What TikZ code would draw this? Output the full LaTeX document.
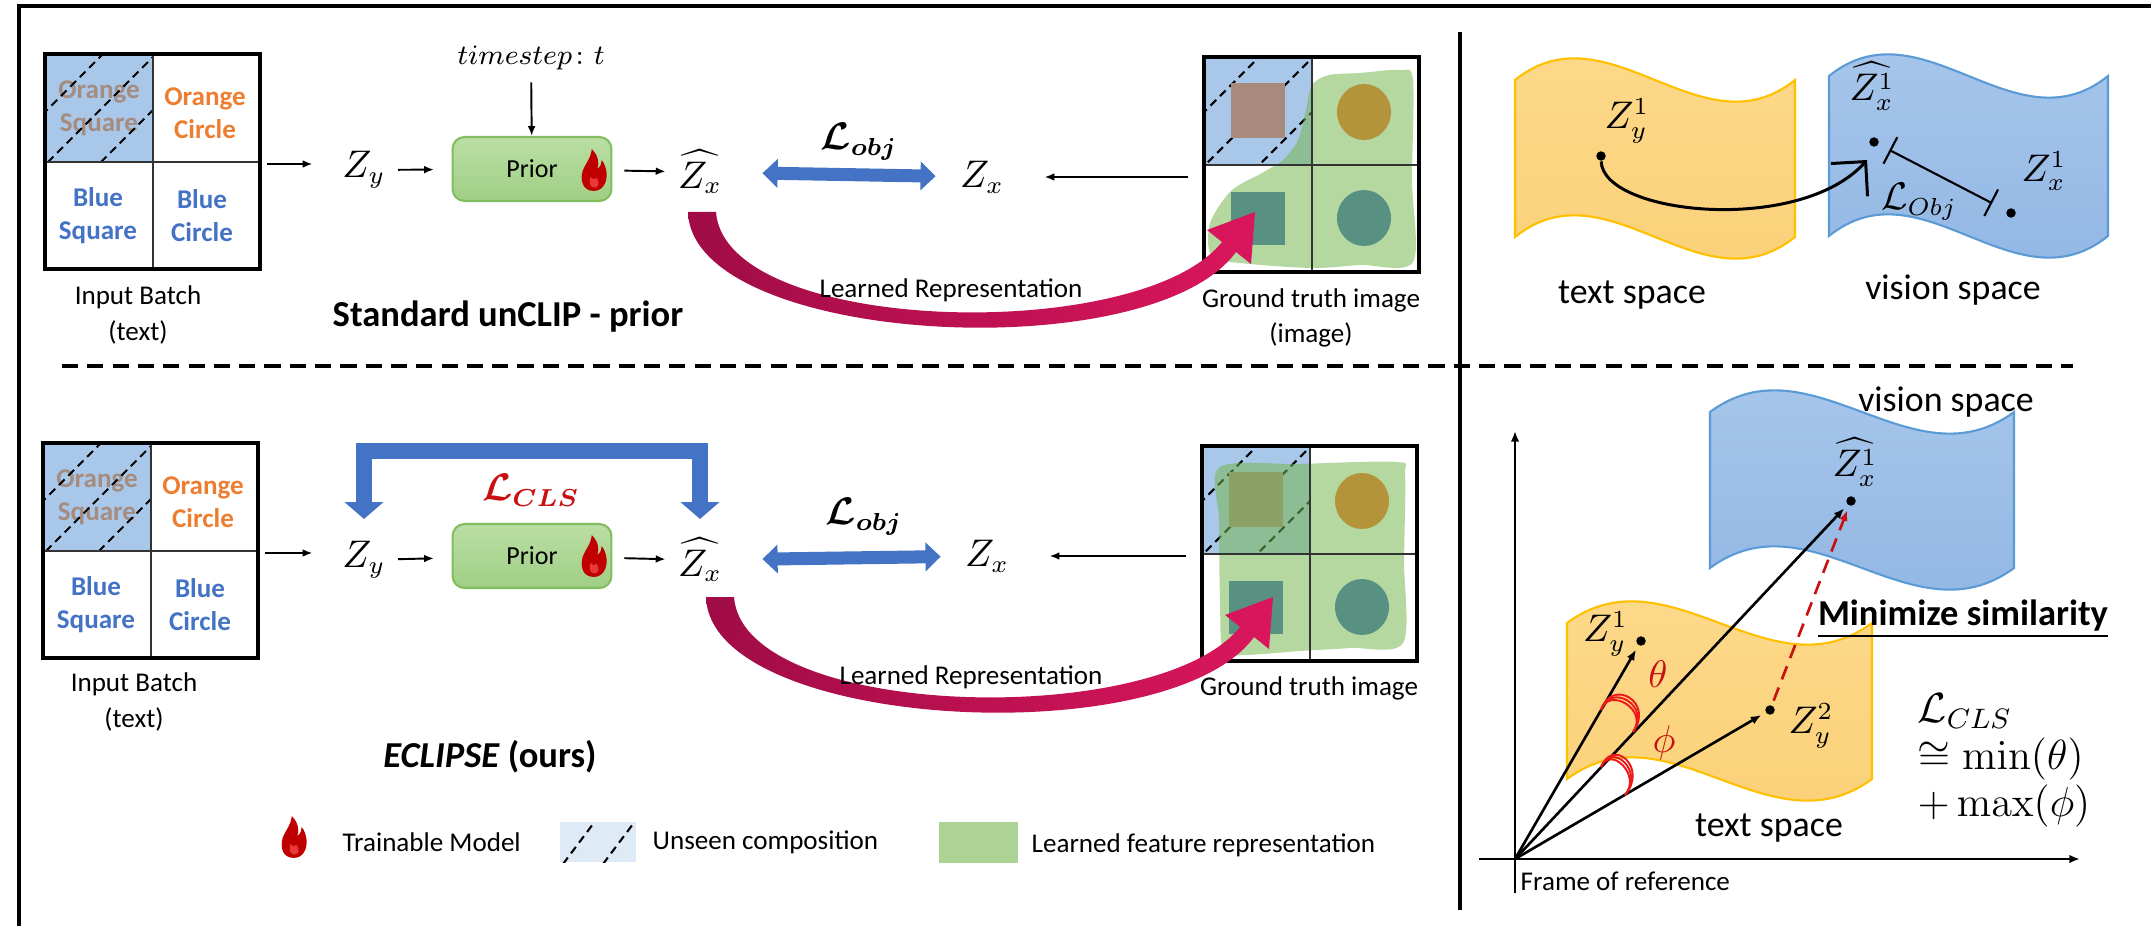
\documentclass[tikz,border=0pt]{standalone}
\usepackage{amsmath}
\usepackage{amssymb}
\usepackage[no-math]{fontspec}
\setmainfont{Carlito}
\usetikzlibrary{arrows.meta}
\usetikzlibrary{calc}

\definecolor{unseenblue}{RGB}{169,199,232}
\definecolor{legendblue}{RGB}{222,235,247}
\definecolor{greyorange}{RGB}{165,140,128}
\definecolor{txtorange}{RGB}{237,125,49}
\definecolor{txtblue}{RGB}{68,114,196}
\definecolor{learnedgreen}{RGB}{118,181,80}
\definecolor{legendgreen}{RGB}{172,210,148}
\definecolor{brownsq}{RGB}{168,138,125}
\definecolor{olivedisc}{RGB}{179,148,58}
\definecolor{tealshape}{RGB}{88,145,130}
\definecolor{arrowblue}{RGB}{68,114,196}
\definecolor{lossred}{RGB}{200,16,16}
\definecolor{anglered}{RGB}{235,25,25}
\definecolor{arrowdark}{RGB}{160,12,70}
\definecolor{arrowlight}{RGB}{218,22,92}
\definecolor{flamered}{RGB}{192,0,0}
\definecolor{flamelight}{RGB}{232,56,60}
\definecolor{priortop}{RGB}{186,222,164}
\definecolor{priorbot}{RGB}{160,207,133}
\definecolor{prioredge}{RGB}{130,190,95}
\definecolor{texttop}{RGB}{253,218,142}
\definecolor{textbot}{RGB}{251,208,118}
\definecolor{textedge}{RGB}{255,192,0}
\definecolor{visiontop}{RGB}{170,200,235}
\definecolor{visionbot}{RGB}{143,181,228}
\definecolor{visionedge}{RGB}{91,155,213}

\tikzset{
  frameline/.style={line width=1pt},
  sepline/.style={line width=1.2pt, dash pattern=on 4.6pt off 2.6pt},
  panelline/.style={line width=1.1pt},
  gridline/.style={line width=0.6pt, black!80},
  hatch/.style={line width=0.6pt, dash pattern=on 2.3pt off 1.5pt},
  celltxt/.style={font=\bfseries\fontsize{7.7}{9.4}\selectfont, align=center, inner sep=0pt},
  lbl/.style={font=\fontsize{7.7}{10}\selectfont, align=center},
  biglbl/.style={font=\fontsize{10.2}{12}\selectfont},
  title/.style={font=\bfseries\fontsize{10.4}{12}\selectfont},
  zlbl/.style={font=\fontsize{10.5}{12}\selectfont},
  ptlbl/.style={font=\fontsize{10.5}{12}\selectfont, inner sep=1pt},
  flow/.style={-{Latex[length=2.8pt,width=2.2pt]}, line width=0.55pt},
  prior/.style={draw=prioredge, line width=0.6pt, rounded corners=3.4pt,
    top color=priortop, bottom color=priorbot, minimum width=45.2pt,
    minimum height=18.2pt, font=\fontsize{7.4}{9}\selectfont},
  objarrow/.style={{Triangle[width=8pt,length=4.3pt]}-{Triangle[width=8pt,length=4.3pt]},
    line width=3.7pt, draw=arrowblue},
  clsarrow/.style={{Triangle[width=10.8pt,length=4.8pt]}-{Triangle[width=10.8pt,length=4.8pt]},
    line width=4.8pt, draw=arrowblue, line join=miter},
  learned/.style={fill=learnedgreen, fill opacity=0.54},
  textspace/.style={top color=texttop, bottom color=textbot, draw=textedge, line width=0.6pt},
  visionspace/.style={top color=visiontop, bottom color=visionbot, draw=visionedge, line width=0.6pt},
  dot/.style={circle, fill, inner sep=0pt, minimum size=2.7pt},
  maparrow/.style={-{Straight Barb[length=7pt,width=14pt]}, line width=0.85pt},
  objbar/.style={{Bar[width=8.5pt]}-{Bar[width=8.5pt]}, line width=0.6pt,
    shorten <=3.4pt, shorten >=4.5pt},
  vec/.style={-{Latex[length=3pt,width=2.4pt]}, line width=0.75pt, shorten >=1.3pt},
  axis/.style={-{Latex[length=3pt,width=2.4pt]}, line width=0.6pt},
  simarrow/.style={-{Latex[length=3pt,width=2.4pt]}, draw=lossred, line width=0.75pt,
    dash pattern=on 4pt off 2.5pt, shorten >=1.3pt, shorten <=1.3pt},
  anglearc/.style={draw=anglered, line width=0.55pt},
  pics/flame/.style={code={
    \fill[flamered] (0,19) .. controls (-9,19) and (-12,12) .. (-11,4)
      .. controls (-10,-4) and (-3,-9) .. (-2,-19)
      .. controls (4,-13) and (5,-6) .. (3,-1)
      .. controls (6,-3) and (7,-6) .. (7,-9)
      .. controls (12,-3) and (13,8) .. (9,14)
      .. controls (7,17) and (4,19) .. (0,19) -- cycle;
    \fill[flamelight] (1,16) .. controls (-4,16) and (-5,11) .. (-3,6)
      .. controls (-1,9) and (1,9) .. (2,7)
      .. controls (5,10) and (5,15) .. (1,16) -- cycle;
  }},
}

% 2x2 grid of text prompts, #1 = its right-hand port
\newcommand{\inputbatch}[1]{%
  \fill[unseenblue] (45,54) rectangle (153,162);
  \node[celltxt, text=greyorange] (os) at (99,108) {Orange\\Square};
  \node[celltxt, text=txtorange] (oc) at (205,113) {Orange\\Circle};
  \node[celltxt, text=txtblue] (bs) at (98,216) {Blue\\Square};
  \node[celltxt, text=txtblue] (bc) at (202,216) {Blue\\Circle};
  \begin{scope}
    \clip (45,54) rectangle (153,162);
    \foreach \k in {157,210,263}
      \draw[hatch] ({\k-200},200) -- (\k,0);
  \end{scope}
  \draw[gridline] (153,54) -- (153,269) (45,162) -- (260,162);
  \draw[panelline] (45,54) rectangle (260,269);
  \coordinate (#1) at (260,164);
}

% ground truth image, #1 = its left-hand port, #2 = outline of the learned region
\newcommand{\gtimage}[2]{%
  \fill[unseenblue] (1204,57) rectangle (1312,165);
  \begin{scope}
    \clip (1204,57) rectangle (1312,165);
    \foreach \k in {1316,1370,1424}
      \draw[hatch] ({\k-200},200) -- (\k,0);
  \end{scope}
  \fill[brownsq] (1231,83) rectangle (1285,138);
  \fill[learned] plot[smooth cycle] coordinates {#2};
  \fill[olivedisc] (1364,112) ellipse [x radius=27, y radius=28];
  \fill[tealshape] (1231,192) rectangle (1285,245);
  \fill[tealshape] (1364,218) ellipse [x radius=27, y radius=28];
  \draw[gridline] (1312,57) -- (1312,272) (1204,165) -- (1419,165);
  \draw[panelline] (1204,57) rectangle (1419,272);
  \coordinate (#1) at (1204,165);
}

% curved block arrow under the prior output
\newcommand{\learnedarrow}{%
  \shade[left color=arrowdark, right color=arrowlight]
    (688,212) .. controls (692,345) and (1150,370) .. (1236,252)
    -- (1251,264) -- (1255,212) -- (1207,230) -- (1222,242)
    .. controls (1140,345) and (725,335) .. (716,212) -- cycle;
}

% wavy sheet: x, y, width, height
\newcommand{\spacepath}[4]{(#1,#2) .. controls ({#1+#3/3},{#2-75}) and ({#1+2*#3/3},{#2+75}) .. ({#1+#3},#2)
  -- ({#1+#3},{#2+#4}) .. controls ({#1+2*#3/3},{#2+#4+75}) and ({#1+#3/3},{#2+#4-75}) .. (#1,{#2+#4}) -- cycle}

\begin{document}
\begin{tikzpicture}[x=0.1mm,y=-0.1mm]
\useasboundingbox (0,0) rectangle (2151,926);

\draw[frameline] (19,926) -- (19,6) -- (2151,6);
\draw[frameline] (1460,32) -- (1460,910);
\draw[sepline] (62,366) -- (2073,366);

% standard unCLIP prior
\inputbatch{batchA}
\gtimage{gtA}{(1329,75) (1360,73) (1400,70) (1413,80) (1412,180) (1413,262) (1360,265)
  (1313,268) (1250,264) (1214,258) (1208,240) (1212,218) (1232,190) (1262,173)
  (1283,160) (1298,140) (1306,110) (1312,85)}
\learnedarrow
\node[lbl] (lrA) at (951,290) {Learned Representation};
\node[lbl] (inA) at (138,315) {Input Batch\\(text)};
\node[lbl] (gtlA) at (1311,318) {Ground truth image\\(image)};

\node[zlbl] (zyA) at (364,170) {$Z_y$};
\node[prior] (priorA) at (532,169) {Prior};
\pic[scale=1.1] at (594,170) {flame};
\node[zlbl] (zxhA) at (700,172) {$\widehat{Z_x}$};
\node[zlbl] (zxA) at (982,177) {$Z_x$};
\node[font=\fontsize{8}{10}\selectfont] (ts) at (531,58) {$timestep\colon t$};
\node[zlbl] (lobjA) at (859,142) {$\boldsymbol{\mathcal{L}_{obj}}$};
\node[title] (stdA) at (508,317) {Standard unCLIP - prior};

\draw[flow, shorten <=2pt, shorten >=5pt] (batchA) -- (batchA -| zyA.west);
\draw[flow, shorten >=5pt] (zyA) -- (priorA);
\draw[flow, shorten <=3.4pt] (priorA) -- (zxhA);
\draw[flow] (ts) -- (priorA);
\draw[objarrow, shorten <=8pt, shorten >=3.4pt] (zxhA) -- (zxA);
\draw[flow, shorten <=4.5pt, shorten >=8pt] (zxA -| gtA) -- (zxA.east);

% ECLIPSE
\begin{scope}[shift={(-2,389)}]
\inputbatch{batchB}
\gtimage{gtB}{(1222,78) (1302,75) (1399,73) (1407,86) (1406,171) (1405,254) (1352,259)
  (1302,262) (1247,266) (1225,262) (1222,211) (1221,131)}
\end{scope}
\begin{scope}[shift={(18,385)}]
\learnedarrow
\end{scope}
\node[lbl] (lrB) at (971,677) {Learned Representation};
\node[lbl] (inB) at (134,702) {Input Batch\\(text)};
\node[lbl] (gtlB) at (1309,688) {Ground truth image};

\node[zlbl] (zyB) at (364,560) {$Z_y$};
\node[prior] (priorB) at (532,556) {Prior};
\pic[scale=1.1] at (594,556) {flame};
\node[zlbl] (zxhB) at (700,560) {$\widehat{Z_x}$};
\node[zlbl] (zxB) at (987,556) {$Z_x$};
\node[zlbl] (lobjB) at (864,517) {$\boldsymbol{\mathcal{L}_{obj}}$};
\node[zlbl, text=lossred] (lcls) at (531,490) {$\boldsymbol{\mathcal{L}_{CLS}}$};
\node[title] (ours) at (490,757) {\textit{ECLIPSE} (ours)};

\draw[flow, shorten <=2pt, shorten >=5pt] (batchB) -- (batchB -| zyB.west);
\draw[flow, shorten >=5pt] (zyB) -- (priorB);
\draw[flow, shorten <=3.4pt] (priorB) -- (zxhB);
\draw[objarrow, shorten <=8pt, shorten >=3.4pt] (zxhB) -- (zxB);
\draw[flow, shorten <=4.5pt, shorten >=8pt] (zxB -| gtB) -- (zxB.east);
\draw[clsarrow] (zyB |- 0,519) -- (zyB |- 0,451) -| (zxhB |- 0,519);

% legend
\pic[scale=1.1] at (294,837) {flame};
\node[lbl, anchor=west, inner sep=0pt] (lgA) at (342,842) {Trainable Model};
\fill[legendblue] (560,822) rectangle (636,862);
\begin{scope}
  \clip (560,822) rectangle (636,862);
  \draw[hatch] (563,864) -- (596,820) (603,864) -- (636,820);
\end{scope}
\node[lbl, anchor=west, inner sep=0pt] (lgB) at (652,842) {Unseen composition};
\fill[legendgreen] (939,822) rectangle (1018,863);
\node[lbl, anchor=west, inner sep=0pt] (lgC) at (1031,845) {Learned feature representation};

% text and vision space, mapping
\path[textspace] \spacepath{1515}{80}{280}{157};
\path[visionspace] \spacepath{1829}{76}{279}{160};
\node[biglbl] (tsA) at (1632,295) {text space};
\node[biglbl] (vsA) at (1953,290) {vision space};
\node[dot] (zy1t) at (1601,156) {};
\node[dot] (zxh1t) at (1874,142) {};
\node[dot] (zx1t) at (2011,213) {};
\node[ptlbl] at (1627,121) {$Z_y^1$};
\node[ptlbl] at (1872,86) {$\widehat{Z_x^1}$};
\node[ptlbl] at (2044,171) {$Z_x^1$};
\node[ptlbl] at (1919,202) {$\mathcal{L}_{Obj}$};
\coordinate (mapend) at (1867,160);
\draw[maparrow] (zy1t) .. controls (1603,215) and (1800,235) .. (mapend);
\draw[objbar] (zxh1t) -- (zx1t);

% frame of reference
\path[visionspace] \spacepath{1710}{412}{304}{156};
\path[textspace] \spacepath{1567}{623}{305}{156};
\node[biglbl] (vsB) at (1946,402) {vision space};
\node[biglbl] (tsB) at (1769,828) {text space};
\coordinate (org) at (1515,859);
\draw[axis] (1479,859) -- (2080,859);
\draw[axis] (1515,893) -- (1515,431);
\node[lbl, anchor=west, inner sep=0pt] at (1520,881) {Frame of reference};
\node[dot] (zy1b) at (1641,641) {};
\node[dot] (zy2b) at (1770,710) {};
\node[dot] (zxhb) at (1851,501) {};
\node[ptlbl, anchor=east] at (1632,634) {$Z_y^1$};
\node[ptlbl] at (1811,726) {$Z_y^2$};
\node[ptlbl] at (1855,462) {$\widehat{Z_x^1}$};
\draw[vec] (org) -- (zy1b);
\draw[vec] (org) -- (zxhb);
\draw[vec] (org) -- (zy2b);
\draw[simarrow] (zy2b) -- (zxhb);
\foreach \s in {1,1.18,1.36} {
  \draw[anglearc] (1601,710) .. controls +({8*\s},{-24*\s}) and +({16*\s},{-22*\s}) .. (1633,732);
  \draw[anglearc] (1601,767) .. controls +({9*\s},{-22*\s}) and +({17*\s},{-20*\s}) .. (1625,795);
}
\node[font=\fontsize{11}{12}\selectfont, text=lossred] at (1658,674) {$\theta$};
\node[font=\fontsize{11}{12}\selectfont, text=lossred] at (1664,743) {$\phi$};
\node[title] (minsim) at (1963,619) {\underline{Minimize similarity}};
\node[font=\fontsize{11.5}{13.4}\selectfont, align=left, anchor=west, inner sep=0pt] (lclsB) at (1917,760)
  {$\mathcal{L}_{CLS}$\\$\cong\min(\theta)$\\$+\max(\phi)$};
\end{tikzpicture}
\end{document}
